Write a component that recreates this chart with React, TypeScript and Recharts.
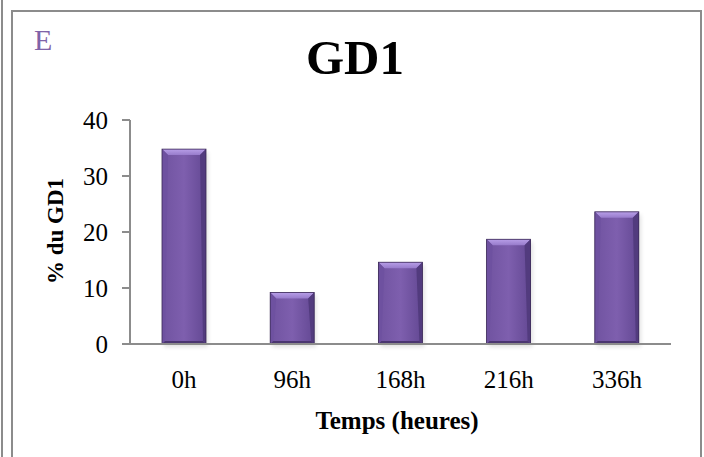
import React from "react";
import { BarChart, Bar, XAxis, YAxis } from "recharts";

const categories = ["0h", "96h", "168h", "216h", "336h"];
const values = [34.8, 9.2, 14.6, 18.7, 23.6];
const yTicks = [0, 10, 20, 30, 40];

const data = categories.map((c, i) => ({ name: c, v: values[i] }));

const SERIF = "'Liberation Serif', 'Times New Roman', serif";
const AXIS = "#8c8c8c";

const BevelBar = (props: any) => {
  const { x, y, width: w, height: h } = props;
  if (!h || h <= 0) return null;
  const b = Math.min(6, h / 2);
  const bb = 3;
  return (
    <g>
      <rect x={x + 2} y={y + 3} width={w} height={h} fill="#000" opacity={0.12} filter="url(#blur)" />
      <rect x={x} y={y} width={w} height={h} fill="url(#body)" />
      <polygon points={`${x},${y} ${x + w},${y} ${x + w - b},${y + b} ${x + b},${y + b}`} fill="url(#top)" />
      <polygon points={`${x},${y} ${x + b},${y + b} ${x + 3},${y + h - bb} ${x},${y + h}`} fill="#6e51a0" />
      <polygon points={`${x + w},${y} ${x + w - b},${y + b} ${x + w - 3},${y + h - bb} ${x + w},${y + h}`} fill="#523b7e" />
      <polygon points={`${x},${y + h} ${x + 3},${y + h - bb} ${x + w - 3},${y + h - bb} ${x + w},${y + h}`} fill="#4a3570" />
      <rect x={x} y={y} width={w} height={h} fill="none" stroke="#3a2856" strokeWidth={0.8} />
    </g>
  );
};

export default function App() {
  return (
    <div style={{ position: "absolute", left: 0, top: 0, width: 704, height: 457, background: "#fff", overflow: "hidden", fontFamily: SERIF }}>
      <div style={{ position: "absolute", left: 1, top: 0, width: 2, height: 457, background: AXIS }} />
      <div style={{ position: "absolute", left: 11, top: 10, width: 687, height: 460, border: `2px solid ${AXIS}` }} />
      <div style={{ position: "absolute", left: 34, top: 23, fontSize: 30, color: "#7f63a8", lineHeight: "34px" }}>E</div>
      <div style={{ position: "absolute", left: 255, width: 200, top: 30, textAlign: "center", fontSize: 49, fontWeight: "bold", lineHeight: "56px" }}>GD1</div>
      <div style={{ position: "absolute", left: 56, top: 231, transform: "translate(-50%, -50%) rotate(-90deg)", whiteSpace: "nowrap", fontSize: 23, fontWeight: "bold" }}>% du GD1</div>
      <div style={{ position: "absolute", left: 297, width: 200, top: 406, textAlign: "center", fontSize: 25, fontWeight: "bold", lineHeight: "30px", whiteSpace: "nowrap" }}>Temps (heures)</div>
      <div style={{ position: "absolute", left: 0, top: 0 }}>
        <BarChart width={704} height={457} data={data} margin={{ top: 120, right: 33, left: 0, bottom: 0 }} barSize={44}>
          <defs>
            <linearGradient id="body" x1="0" y1="0" x2="1" y2="0">
              <stop offset="0%" stopColor="#7053a0" />
              <stop offset="50%" stopColor="#7e5fae" />
              <stop offset="100%" stopColor="#634893" />
            </linearGradient>
            <linearGradient id="top" x1="0" y1="0" x2="0" y2="1">
              <stop offset="0%" stopColor="#b89fe8" />
              <stop offset="100%" stopColor="#977bcb" />
            </linearGradient>
            <filter id="blur" x="-20%" y="-20%" width="140%" height="140%">
              <feGaussianBlur stdDeviation="2" />
            </filter>
          </defs>
          <XAxis
            dataKey="name"
            height={113}
            tickLine={false}
            axisLine={{ stroke: AXIS, strokeWidth: 2 }}
            tickSize={0}
            tickMargin={26}
            tick={{ fontSize: 25, fill: "#000", fontFamily: SERIF }}
          />
          <YAxis
            width={130}
            domain={[0, 40]}
            ticks={yTicks}
            interval={0}
            axisLine={{ stroke: AXIS, strokeWidth: 2 }}
            tickLine={{ stroke: AXIS, strokeWidth: 2 }}
            tickSize={8}
            tickMargin={14}
            tick={{ fontSize: 25, fill: "#000", fontFamily: SERIF }}
          />
          <Bar dataKey="v" shape={<BevelBar />} isAnimationActive={false} />
        </BarChart>
      </div>
    </div>
  );
}
